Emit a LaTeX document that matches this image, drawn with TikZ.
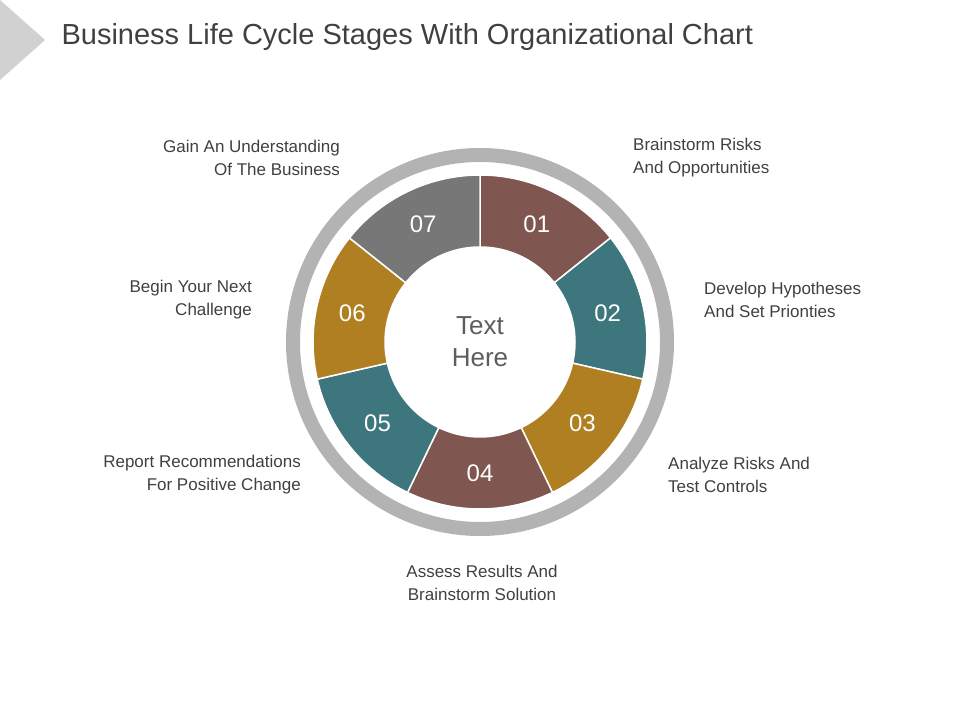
\documentclass[tikz,border=0pt]{standalone}
\usepackage{fontspec}
\setmainfont{Liberation Sans}
\definecolor{cbrown}{HTML}{7F5750}
\definecolor{cteal}{HTML}{3D767D}
\definecolor{cgold}{HTML}{AF7F22}
\definecolor{cgray}{HTML}{777777}
\definecolor{ring}{HTML}{B3B3B3}
\definecolor{txt}{HTML}{404040}
\begin{document}
\begin{tikzpicture}[x=1pt,y=1pt,
  lbl/.style={font=\fontsize{17}{23}\selectfont, text=txt, inner sep=0pt},
  num/.style={font=\fontsize{24}{26}\selectfont, text=white}]
\useasboundingbox (0,0) rectangle (960,720);
\fill[ring!60] (0,720) -- (45,680) -- (0,640) -- cycle;
\node[anchor=west, text=txt, font=\fontsize{29}{32}\selectfont] (title) at (58,683) {Business Life Cycle Stages With Organizational Chart};
\begin{scope}[shift={(480,378)}]
\draw[ring, line width=14] (0,0) circle[radius=187];
\foreach \i/\c in {1/cbrown,2/cteal,3/cgold,4/cbrown,5/cteal,6/cgold,7/cgray}{
  \pgfmathsetmacro\a{90-(\i-1)*360/7}
  \pgfmathsetmacro\b{90-\i*360/7}
  \pgfmathsetmacro\m{(\a+\b)/2}
  \filldraw[fill=\c, draw=white, line width=1.5] (\a:95) -- (\a:167) arc[start angle=\a, end angle=\b, radius=167] -- (\b:95) arc[start angle=\b, end angle=\a, radius=95] -- cycle;
  \node[num] (n\i) at (\m:131) {0\i};
}
\node[align=center, text=txt!85, font=\fontsize{26}{32}\selectfont] (center) at (0,0) {Text\\Here};
\end{scope}
\node[lbl, anchor=north east, align=right] (l7) at (340,147+11) {};
\node[lbl, align=right, anchor=east] (t7) at (340,562) {Gain An Understanding\\Of The Business};
\node[lbl, align=left, anchor=west] (t1) at (633,562) {Brainstorm Risks\\And Opportunities};
\node[lbl, align=left, anchor=west] (t2) at (704,420) {Develop Hypotheses\\And Set Prionties};
\node[lbl, align=left, anchor=west] (t3) at (668,245) {Analyze Risks And\\Test Controls};
\node[lbl, align=center] (t4) at (482,137) {Assess Results And\\Brainstorm Solution};
\node[lbl, align=right, anchor=east] (t5) at (301,245) {Report Recommendations\\For Positive Change};
\node[lbl, align=right, anchor=east] (t6) at (252,420) {Begin Your Next\\Challenge};
\end{tikzpicture}
\end{document}
